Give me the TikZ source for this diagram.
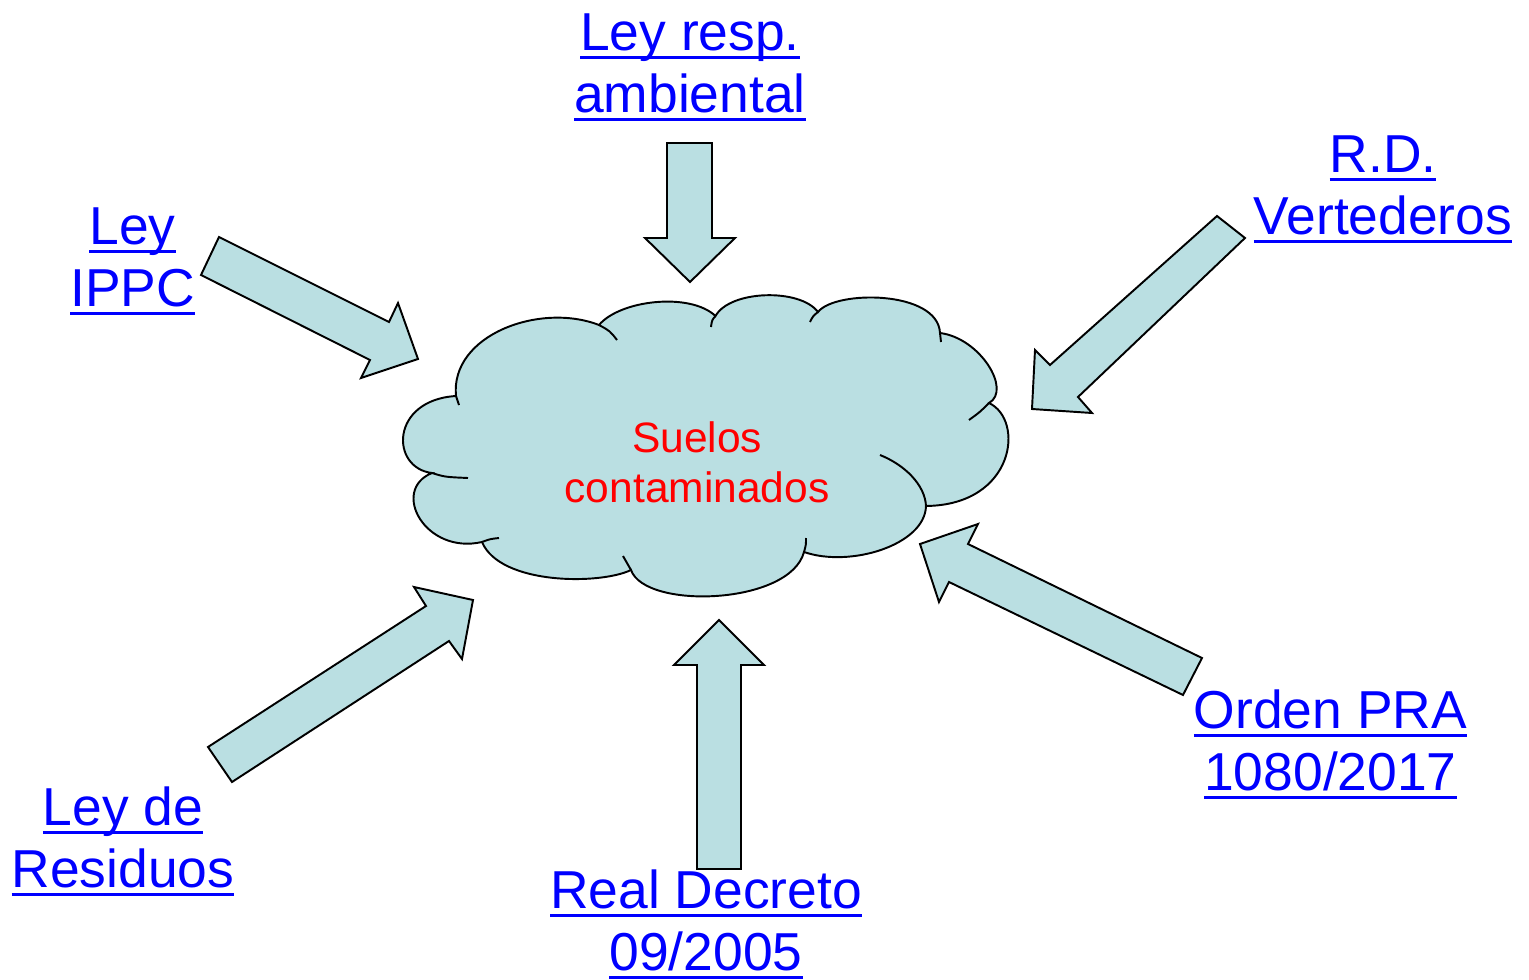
\documentclass[tikz,border=0pt]{standalone}
\usepackage{fontspec}
\setmainfont{Liberation Sans}
\definecolor{cloudfill}{RGB}{186,223,226}
\definecolor{linkblue}{RGB}{0,0,255}
\newcommand{\lstrut}{\rule[-0.22em]{0pt}{0.97em}}
\newcommand{\lnk}[1]{\setbox0\hbox{#1}\lstrut\rlap{\rule[-0.16em]{\wd0}{0.055em}}\box0}

\begin{document}
\begin{tikzpicture}[x=0.02cm, y=-0.02cm,
  cloudpart/.style={draw=black, fill=cloudfill, line width=1.1pt},
  blockarrow/.style={draw=black, fill=cloudfill, line width=1.1pt, line join=miter},
  link/.style={text=linkblue, align=center, inner sep=0pt, font=\fontsize{30.4}{35.15}\selectfont}]
  \useasboundingbox (0,0) rectangle (1529,980);

  % Cloud
  \filldraw[cloudpart] (456,396)
    .. controls (450,335) and (540,302) .. (599,325)
    .. controls (620,300) and (690,292) .. (715.5,316)
    .. controls (730,290) and (800,288) .. (818,312)
    .. controls (835,290) and (938,290) .. (940,333)
    .. controls (980,338) and (1012,390) .. (989,403)
    .. controls (1025,420) and (1015,505) .. (926,506)
    .. controls (925,545) and (850,568) .. (804,552)
    .. controls (790,605) and (645,610) .. (631,570)
    .. controls (600,585) and (500,585) .. (482,542)
    .. controls (425,555) and (390,490) .. (432,473)
    .. controls (390,468) and (390,400) .. (456,396) -- cycle;
  \draw[cloudpart, fill=none] (456,396) -- (459,405);
  \draw[cloudpart, fill=none] (432,473) .. controls (445,477) .. (468,478);
  \draw[cloudpart, fill=none] (482,542) .. controls (490,539) .. (499,538);
  \draw[cloudpart, fill=none] (623,556) .. controls (627,563) .. (631,570);
  \draw[cloudpart, fill=none] (806,538) .. controls (806,545) .. (804,552);
  \draw[cloudpart, fill=none] (880,455) .. controls (905,465) and (925,485) .. (926,506);
  \draw[cloudpart, fill=none] (969,420) .. controls (980,412) .. (989,403);
  \draw[cloudpart, fill=none] (940,333) -- (941,342);
  \draw[cloudpart, fill=none] (810,322) .. controls (813,316) .. (818,312);
  \draw[cloudpart, fill=none] (711,327) .. controls (712,320) .. (715.5,316);
  \draw[cloudpart, fill=none] (599,325) .. controls (610,331) .. (617,340);

  \node[inner sep=0pt, align=center, text=red, font=\fontsize{24.2}{28.35}\selectfont]
    (suelos) at (697,466) {\lstrut Suelos\\\lstrut contaminados};

  % Block arrows
  \filldraw[blockarrow] (219,237) -- (389,322) -- (398,303) -- (418,359) -- (361,378) -- (370,360) -- (201,275) -- cycle;
  \filldraw[blockarrow] (667,143) -- (712,143) -- (712,238) -- (735,238) -- (690,282) -- (645,238) -- (667,238) -- cycle;
  \filldraw[blockarrow] (1217,216) -- (1245,238) -- (1078,397) -- (1092,413) -- (1032,409) -- (1035,350) -- (1050,365) -- cycle;
  \filldraw[blockarrow] (208,747) -- (426,606) -- (414,587) -- (473,600) -- (462,659) -- (449,641) -- (232,782) -- cycle;
  \filldraw[blockarrow] (719,620) -- (764,665) -- (741,665) -- (741,869) -- (697,869) -- (697,665) -- (674,665) -- cycle;
  \filldraw[blockarrow] (920,544) -- (978,524) -- (968,544) -- (1202,658) -- (1183,695) -- (949,582) -- (939,602) -- cycle;

  % Labels
  \node[link] (resp) at (690,67) {\lnk{Ley resp.}\\\lnk{ambiental}};
  \node[link] (ippc) at (132.5,261) {\lnk{Ley}\\\lnk{IPPC}};
  \node[link] (vert) at (1383,189) {\lnk{R.D.}\\\lnk{Vertederos}};
  \node[link] (resid) at (123,842) {\lnk{Ley de}\\\lnk{Residuos}};
  \node[link] (decreto) at (706,925) {\lnk{Real Decreto}\\\lnk{09/2005}};
  \node[link] (orden) at (1330.5,745) {\lnk{Orden PRA}\\\lnk{1080/2017}};
\end{tikzpicture}
\end{document}
